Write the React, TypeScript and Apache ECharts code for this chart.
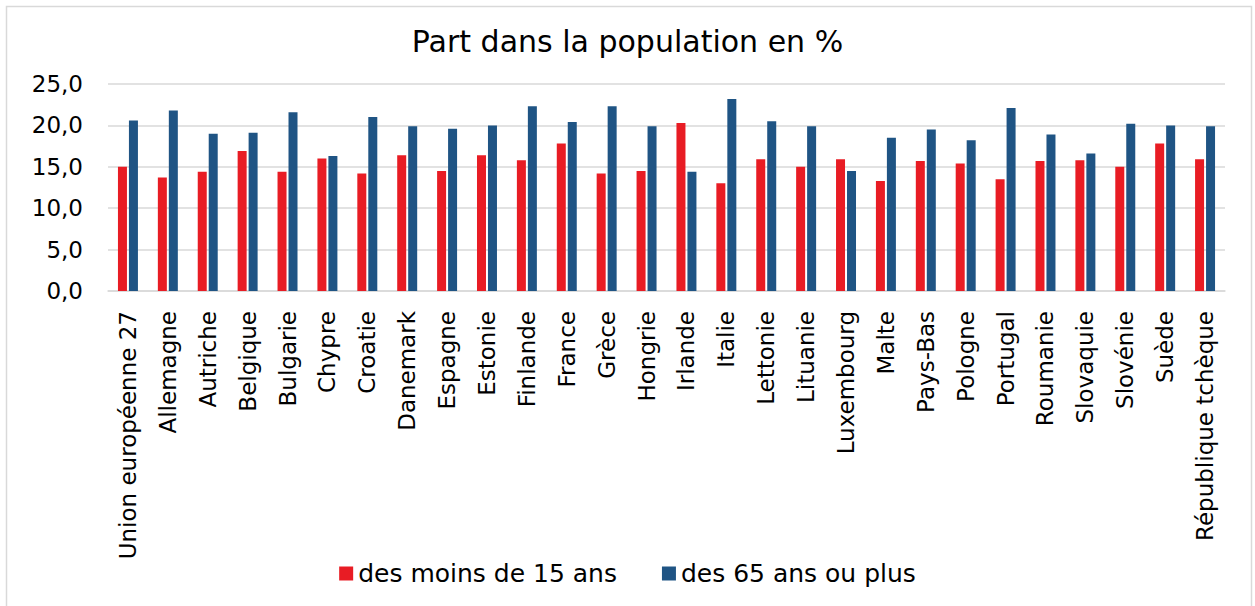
import React, { useEffect, useRef } from "react";
import * as echarts from "echarts";

const categories = [
  "Union européenne 27", "Allemagne", "Autriche", "Belgique", "Bulgarie", "Chypre", "Croatie",
  "Danemark", "Espagne", "Estonie", "Finlande", "France", "Grèce", "Hongrie", "Irlande", "Italie",
  "Lettonie", "Lituanie", "Luxembourg", "Malte", "Pays-Bas", "Pologne", "Portugal", "Roumanie",
  "Slovaquie", "Slovénie", "Suède", "République tchèque",
];

const moins15 = [
  15.0, 13.7, 14.4, 16.9, 14.4, 16.0, 14.2, 16.4, 14.5, 16.4, 15.8, 17.8, 14.2, 14.5,
  20.3, 13.0, 15.9, 15.0, 15.9, 13.3, 15.7, 15.4, 13.5, 15.7, 15.8, 15.0, 17.8, 15.9,
];

const plus65 = [
  20.6, 21.8, 19.0, 19.1, 21.6, 16.3, 21.0, 19.9, 19.6, 20.0, 22.3, 20.4, 22.3, 19.9,
  14.4, 23.2, 20.5, 19.9, 14.5, 18.5, 19.5, 18.2, 22.1, 18.9, 16.6, 20.2, 20.0, 19.9,
];

const seriesNames = ["des moins de 15 ans", "des 65 ans ou plus"];
const yTicks = { min: 0, max: 25, interval: 5 };

const FONT = "DejaVu Sans";

export default function App() {
  const ref = useRef<HTMLDivElement>(null);
  useEffect(() => {
    if (!ref.current) return;
    const chart = echarts.init(ref.current, undefined, { renderer: "svg" });
    chart.setOption({
      animation: false,
      backgroundColor: "#ffffff",
      textStyle: { fontFamily: FONT, color: "#000" },
      title: {
        text: "Part dans la population en %",
        left: "center",
        top: 21,
        textStyle: { fontFamily: FONT, fontSize: 30, fontWeight: "normal", color: "#000" },
      },
      graphic: [
        {
          type: "rect",
          shape: { x: 6.5, y: 6.5, width: 1245, height: 620 },
          style: { fill: "none", stroke: "#d9d9d9", lineWidth: 1.5 },
          silent: true,
        },
      ],
      legend: {
        data: seriesNames,
        top: 556,
        left: "center",
        itemWidth: 14,
        itemHeight: 14,
        itemGap: 45,
        icon: "rect",
        textStyle: { fontFamily: FONT, fontSize: 25, color: "#000" },
      },
      grid: { left: 108, right: 30, top: 84, bottom: 315, containLabel: false },
      xAxis: {
        type: "category",
        data: categories,
        axisLine: { show: true, lineStyle: { color: "#d9d9d9", width: 1.5 } },
        axisTick: { show: false },
        axisLabel: {
          interval: 0,
          rotate: 90,
          margin: 20,
          fontFamily: FONT,
          fontSize: 23,
          color: "#000",
        },
      },
      yAxis: {
        type: "value",
        min: yTicks.min,
        max: yTicks.max,
        interval: yTicks.interval,
        axisLine: { show: false },
        axisTick: { show: false },
        splitLine: { lineStyle: { color: "#d9d9d9", width: 1.5 } },
        axisLabel: {
          margin: 25,
          fontFamily: FONT,
          fontSize: 23,
          color: "#000",
          formatter: (v: number) => v.toFixed(1).replace(".", ","),
        },
      },
      series: [
        {
          name: seriesNames[0],
          type: "bar",
          data: moins15,
          barWidth: 9,
          barGap: "22%",
          itemStyle: { color: "#e81c24" },
        },
        {
          name: seriesNames[1],
          type: "bar",
          data: plus65,
          barWidth: 9,
          barGap: "22%",
          itemStyle: { color: "#1f5484" },
        },
      ],
    });
    return () => chart.dispose();
  }, []);
  return (
    <div
      ref={ref}
      style={{ position: "fixed", left: 0, top: 0, width: 1255, height: 606 }}
    />
  );
}
